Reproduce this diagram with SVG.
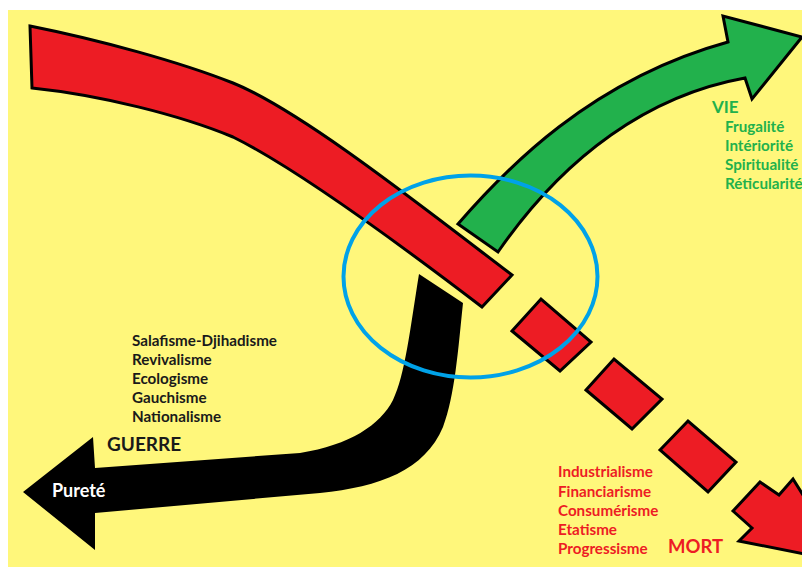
<svg xmlns="http://www.w3.org/2000/svg" width="802" height="567" viewBox="0 0 802 567">
<style>
.t{font-family:Lato,"Open Sans","Liberation Sans",sans-serif;font-weight:bold;}
.s{font-size:15.2px;}
.g{fill:#22B14C;}
.r{fill:#ED1C24;}
.k{fill:#1A1A1A;}
.red{fill:#ED1C24;stroke:#000;stroke-width:3;stroke-linejoin:miter;}
.grn{fill:#22B14C;stroke:#000;stroke-width:3;stroke-linejoin:miter;}
</style>
<rect x="0" y="0" width="802" height="567" fill="#FFFFFF"/>
<rect x="8" y="10" width="794" height="557" fill="#FFF77B"/>
<g id="connectors">
<g id="arrow-red-main">
<path class="red" d="M30,26 C100,40 180,62 233,83 C300,110 420,205 512,275 L482,307 C410,252 300,170 233,137 C180,115 100,95 32,88 Z"/>
</g>
<g id="arrow-green">
<path class="grn" d="M458,224 C505,170 590,80 728,42 L723,16 L802,37 L752,99 L745,78 C650,95 565,155 498,252 Z"/>
</g>
<g id="arrow-black">
<path fill="#000" d="M419,274 L463,303 C458,350 455,395 443,427 C425,470 380,487 320,493 L95,513 L95,550 L23,492 L93,437 L95,468 L300,453 C350,445 380,425 393,400 C405,375 410,330 419,274 Z"/>
</g>
<g id="arrow-red-dashed">
<polygon class="red" points="512,331 541,299 591,342 560,371"/>
<polygon class="red" points="586,390 614,359 662,399 632,429"/>
<polygon class="red" points="660,450 688,421 736,462 708,492"/>
<polygon class="red" points="733,511 760,482 779,495 793,479 845,562 739,541 752,528"/>
</g>
</g>
<g id="crossroads">
<ellipse cx="470.5" cy="276.5" rx="127" ry="101" fill="none" stroke="#00A2E8" stroke-width="4"/>
</g>
<g id="node-vie">
<text class="t g" x="712" y="113" font-size="17">VIE</text>
<text class="t s g" x="725" y="132">Frugalité</text>
<text class="t s g" x="725" y="151">Intériorité</text>
<text class="t s g" x="725" y="170">Spiritualité</text>
<text class="t s g" x="725" y="189">Réticularité</text>
</g>
<g id="node-guerre">
<text class="t s k" x="132" y="346">Salafisme-Djihadisme</text>
<text class="t s k" x="132" y="365">Revivalisme</text>
<text class="t s k" x="132" y="384">Ecologisme</text>
<text class="t s k" x="132" y="403">Gauchisme</text>
<text class="t s k" x="132" y="422">Nationalisme</text>
<text class="t k" x="107" y="451" font-size="19">GUERRE</text>
<text class="t" x="52" y="497" font-size="18" fill="#FFFFFF">Pureté</text>
</g>
<g id="node-mort">
<text class="t s r" x="558" y="477">Industrialisme</text>
<text class="t s r" x="558" y="497">Financiarisme</text>
<text class="t s r" x="558" y="516">Consumérisme</text>
<text class="t s r" x="558" y="535">Etatisme</text>
<text class="t s r" x="558" y="554">Progressisme</text>
<text class="t r" x="668" y="553" font-size="18.5">MORT</text>
</g>
</svg>
